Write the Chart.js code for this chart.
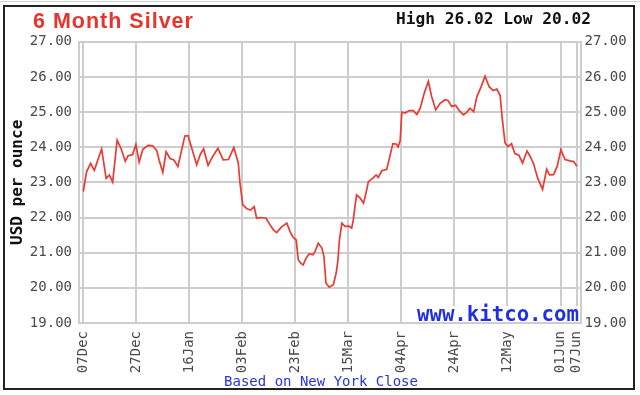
<!DOCTYPE html>
<html>
<head>
<meta charset="utf-8">
<script src="https://cdn.jsdelivr.net/npm/chart.js@4/dist/chart.umd.min.js"></script>
<style>
  html, body { margin: 0; padding: 0; background: #fff; }
  #wrap { position: relative; width: 640px; height: 395px; overflow: hidden; background: #fff; }
  #topline { position: absolute; left: 0; top: 1px; width: 640px; height: 1px; background: #d4d4d4; }
  #frame { position: absolute; left: 3px; top: 5px; width: 632px; height: 385px; border: 2px solid #222; box-sizing: border-box; }
  canvas { position: absolute; left: 0; top: 0; }
  #title { position: absolute; left: 33px; top: 8px; font: bold 21.5px "Liberation Sans", Arial, sans-serif; color: #e8342c; letter-spacing: 1px; line-height: 26px; white-space: nowrap; }
  #hilo { position: absolute; left: 396px; top: 9px; font: bold 16.2px "DejaVu Sans Mono", monospace; color: #111; line-height: 20px; white-space: nowrap; }
  #footer { position: absolute; left: 0; width: 642px; top: 373px; text-align: center; font: 14px "DejaVu Sans Mono", monospace; color: #2433e6; line-height: 16px; white-space: nowrap; }
  #kitco { position: absolute; left: 417px; top: 306px; height: 16px; font: bold 20.7px "DejaVu Sans Mono", monospace; color: #2030e0; line-height: 16px; background: #fff; white-space: nowrap; }
</style>
</head>
<body>
<div id="wrap">
  <div id="topline"></div>
  <div id="frame"></div>
  <canvas id="c" width="640" height="395"></canvas>
  <div id="title">6 Month Silver</div>
  <div id="hilo">High 26.02 Low 20.02</div>
  <div id="kitco">www.kitco.com</div>
  <div id="footer">Based on New York Close</div>
</div>
<script>
// trading-day position (0 = 07Dec) and NY close price (USD/oz)
const dayIndex = [
  0, 0.8, 1.8, 2.7, 4.5, 5.6, 6.4, 7.2, 8.3, 9.3, 10.3, 11.0, 12.1, 12.9, 13.7, 14.6, 15.9, 17.0, 18.0, 18.6,
  19.5, 20.3, 21.3, 22.2, 23.2, 24.9, 25.7, 26.7, 27.8, 28.7, 29.5, 30.6, 31.7, 33.0, 34.3, 35.6, 36.9, 38.0, 38.4, 39.1,
  40.1, 41.0, 41.9, 42.5, 43.5, 44.8, 45.8, 46.6, 47.4, 48.7, 49.9, 50.7, 51.3, 52.2, 52.7, 53.3, 53.9, 54.6, 55.4, 56.3,
  56.8, 57.6, 58.5, 59.0, 59.5, 60.3, 61.3, 62.0, 62.4, 62.8, 63.4, 64.2, 65.0, 65.8, 66.2, 66.6, 67.0, 67.9, 68.7, 69.3,
  69.9, 71.0, 71.8, 72.3, 73.2, 74.4, 75.9, 76.7, 77.2, 77.7, 78.1, 78.9, 79.9, 80.9, 81.8, 82.6, 83.6, 84.6, 85.4, 86.4,
  87.5, 88.7, 89.4, 90.3, 91.3, 92.1, 93.2, 94.0, 94.8, 95.7, 96.5, 97.5, 98.5, 99.5, 100.5, 101.4, 102.2, 102.7, 103.4, 104.1,
  105.0, 105.8, 106.8, 107.7, 108.8, 109.5, 110.4, 111.4, 112.6, 113.6, 114.3, 115.3, 116.2, 117.1, 118.1, 119.3, 120.2, 121.0
];
const price = [
  22.74, 23.30, 23.54, 23.34, 23.95, 23.11, 23.21, 23.01, 24.20, 23.95, 23.60, 23.76, 23.79, 24.08, 23.58, 23.94, 24.05, 24.04, 23.91, 23.63,
  23.28, 23.87, 23.68, 23.64, 23.45, 24.32, 24.33, 23.93, 23.50, 23.80, 23.95, 23.48, 23.73, 23.97, 23.64, 23.65, 23.99, 23.55, 23.00, 22.36,
  22.25, 22.21, 22.31, 21.98, 22.00, 21.98, 21.79, 21.65, 21.57, 21.74, 21.84, 21.60, 21.46, 21.36, 20.80, 20.70, 20.65, 20.84, 20.97, 20.94,
  21.03, 21.27, 21.13, 20.89, 20.13, 20.02, 20.09, 20.42, 20.75, 21.36, 21.84, 21.74, 21.76, 21.70, 21.93, 22.31, 22.64, 22.55, 22.41, 22.69,
  23.02, 23.12, 23.21, 23.14, 23.33, 23.37, 24.10, 24.09, 24.01, 24.20, 25.00, 24.97, 25.04, 25.04, 24.93, 25.11, 25.54, 25.87, 25.44, 25.06,
  25.25, 25.35, 25.33, 25.16, 25.19, 25.05, 24.92, 24.99, 25.11, 25.01, 25.44, 25.71, 26.02, 25.72, 25.61, 25.65, 25.47, 24.83, 24.12, 24.02,
  24.10, 23.82, 23.77, 23.55, 23.89, 23.75, 23.53, 23.12, 22.80, 23.37, 23.21, 23.22, 23.46, 23.93, 23.65, 23.61, 23.59, 23.46
];
// x-axis tick positions (trading-day index) and their labels
const tickPos = [0, 13, 26, 39, 52, 65, 78, 91, 104, 117, 121];
const tickLabels = ['07Dec', '27Dec', '16Jan', '03Feb', '23Feb', '15Mar', '04Apr', '24Apr', '12May', '01Jun', '07Jun'];
const yMin = 19, yMax = 27;

const gridColor = '#cdcdcd';
const tickFont = { family: 'DejaVu Sans Mono', size: 14 };
const tickColor = '#4a4a4a';

new Chart(document.getElementById('c'), {
  type: 'line',
  data: {
    datasets: [{
      data: dayIndex.map((d, i) => ({ x: d, y: price[i] })),
      borderColor: '#ea3a32',
      borderWidth: 1.7,
      pointRadius: 0,
      tension: 0,
      fill: false
    }]
  },
  options: {
    responsive: false,
    animation: false,
    devicePixelRatio: 1,
    layout: { padding: { left: 0, right: 0, top: 41.7, bottom: 0 } },
    plugins: { legend: { display: false }, tooltip: { enabled: false }, title: { display: false } },
    scales: {
      x: {
        type: 'linear',
        min: -1.05,
        max: 121.9,
        afterBuildTicks: s => { s.ticks = tickPos.map(v => ({ value: v })); },
        afterFit: s => { s.height = 72; },
        ticks: {
          autoSkip: false,
          maxRotation: 90,
          minRotation: 90,
          padding: 8,
          font: tickFont,
          color: tickColor,
          callback: (v, i) => tickLabels[i]
        },
        grid: { color: gridColor, lineWidth: 2, drawTicks: false },
        border: { color: gridColor, width: 2 }
      },
      y: {
        position: 'left',
        min: yMin,
        max: yMax,
        afterFit: s => { s.width = 79; },
        ticks: {
          stepSize: 1,
          padding: 7,
          font: tickFont,
          color: tickColor,
          callback: v => Number(v).toFixed(2)
        },
        grid: { color: gridColor, lineWidth: 2, drawTicks: false },
        border: { color: gridColor, width: 2 },
        title: {
          display: true,
          text: 'USD per ounce',
          color: '#111',
          font: { family: 'DejaVu Sans Mono', size: 16, weight: 'bold' },
          padding: { top: 8.7, bottom: 0 }
        }
      },
      y2: {
        position: 'right',
        min: yMin,
        max: yMax,
        afterFit: s => { s.width = 59.5; },
        ticks: {
          stepSize: 1,
          padding: 4,
          font: tickFont,
          color: tickColor,
          callback: v => Number(v).toFixed(2)
        },
        grid: { display: false, drawTicks: false },
        border: { color: gridColor, width: 2 }
      }
    }
  }
});
</script>
</body>
</html>
